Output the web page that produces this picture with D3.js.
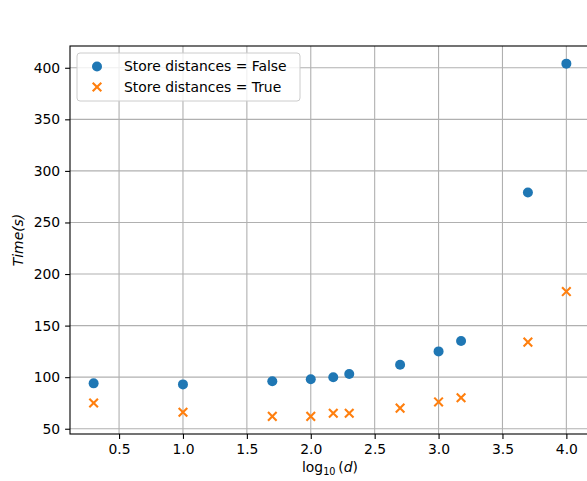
<!DOCTYPE html>
<html>
<head>
<meta charset="utf-8">
<script src="https://cdn.jsdelivr.net/npm/d3@7"></script>
<style>
  body { margin: 0; background: #fff; }
  svg { display: block; font-family: "DejaVu Sans", sans-serif; }
</style>
</head>
<body>
<div class="chart"></div>
<script>
// data
var logD = [0.301, 1.0, 1.699, 2.0, 2.176, 2.301, 2.699, 3.0, 3.176, 3.699, 4.0];
var timeFalse = [94, 93, 96, 98, 100, 103, 112, 125, 135, 279, 404];
var timeTrue = [75, 66, 62, 62, 65, 65, 70, 76, 80, 134, 183];
var xTicks = [0.5, 1.0, 1.5, 2.0, 2.5, 3.0, 3.5, 4.0];
var yTicks = [50, 100, 150, 200, 250, 300, 350, 400];
var seriesNames = ["Store distances = False", "Store distances = True"];

var svgWidth = 587;
var svgHeight = 481;

var margin = { top: 46, right: -3, bottom: 47, left: 70 };
var width = svgWidth - margin.left - margin.right;   // axes box runs past the right edge
var height = svgHeight - margin.top - margin.bottom;

var svg = d3.select(".chart")
    .append("svg")
    .attr("width", svgWidth)
    .attr("height", svgHeight);

var chartGroup = svg.append("g")
    .attr("transform", `translate(${margin.left}, ${margin.top})`);

// matplotlib style 5% padding
var xMin = d3.min(logD), xMax = d3.max(logD);
var xPad = (xMax - xMin) * 0.05;
var xLinearScale = d3.scaleLinear()
    .domain([xMin - xPad, xMax + xPad])
    .range([0, width]);

var yMin = d3.min(timeTrue), yMax = d3.max(timeFalse);
var yPad = (yMax - yMin) * 0.05;
var yLinearScale = d3.scaleLinear()
    .domain([yMin - yPad, yMax + yPad])
    .range([height, 0]);

// grid
chartGroup.append("g")
    .selectAll("line")
    .data(xTicks)
    .enter()
    .append("line")
    .attr("x1", d => xLinearScale(d))
    .attr("x2", d => xLinearScale(d))
    .attr("y1", 0)
    .attr("y2", height)
    .attr("stroke", "#b0b0b0")
    .attr("stroke-width", 1.1);

chartGroup.append("g")
    .selectAll("line")
    .data(yTicks)
    .enter()
    .append("line")
    .attr("x1", 0)
    .attr("x2", width)
    .attr("y1", d => yLinearScale(d))
    .attr("y2", d => yLinearScale(d))
    .attr("stroke", "#b0b0b0")
    .attr("stroke-width", 1.1);

// axes
var bottomAxis = d3.axisBottom(xLinearScale)
    .tickValues(xTicks)
    .tickFormat(d3.format(".1f"))
    .tickSize(4.9)
    .tickPadding(4.9);
var leftAxis = d3.axisLeft(yLinearScale)
    .tickValues(yTicks)
    .tickFormat(d3.format("d"))
    .tickSize(4.9)
    .tickPadding(4.9);

var xAxis = chartGroup.append("g")
    .attr("transform", `translate(0, ${height})`)
    .call(bottomAxis);
var yAxis = chartGroup.append("g")
    .call(leftAxis);

[xAxis, yAxis].forEach(function (ax) {
    ax.select(".domain").remove();
    ax.selectAll("line").attr("stroke", "#000").attr("stroke-width", 1.1);
    ax.selectAll("text")
        .attr("fill", "#000")
        .style("font-size", "13.9px")
        .style("font-family", "DejaVu Sans");
});

// spines
chartGroup.append("rect")
    .attr("x", 0)
    .attr("y", 0)
    .attr("width", width)
    .attr("height", height)
    .attr("fill", "none")
    .attr("stroke", "#000")
    .attr("stroke-width", 1.1);

// points
var circlesGroup = chartGroup.append("g")
    .selectAll("circle")
    .data(logD)
    .enter()
    .append("circle")
    .attr("cx", d => xLinearScale(d))
    .attr("cy", (d, i) => yLinearScale(timeFalse[i]))
    .attr("r", 5)
    .attr("fill", "#1f77b4");

var xSize = 4.3;
function crossPath(cx, cy) {
    return `M${cx - xSize},${cy - xSize}L${cx + xSize},${cy + xSize}M${cx - xSize},${cy + xSize}L${cx + xSize},${cy - xSize}`;
}

var crossGroup = chartGroup.append("g")
    .selectAll("path")
    .data(logD)
    .enter()
    .append("path")
    .attr("d", (d, i) => crossPath(xLinearScale(d), yLinearScale(timeTrue[i])))
    .attr("stroke", "#ff7f0e")
    .attr("stroke-width", 2.1)
    .attr("fill", "none");

// legend
var legend = chartGroup.append("g")
    .attr("transform", "translate(7, 7)");
legend.append("rect")
    .attr("x", 0)
    .attr("y", 0)
    .attr("width", 223)
    .attr("height", 48)
    .attr("rx", 3)
    .attr("fill", "#fff")
    .attr("fill-opacity", 0.8)
    .attr("stroke", "#cccccc")
    .attr("stroke-width", 1);

legend.append("circle")
    .attr("cx", 20)
    .attr("cy", 13.5)
    .attr("r", 5)
    .attr("fill", "#1f77b4");
legend.append("path")
    .attr("d", crossPath(20, 34))
    .attr("stroke", "#ff7f0e")
    .attr("stroke-width", 2.1)
    .attr("fill", "none");

legend.selectAll("text.leg")
    .data(seriesNames)
    .enter()
    .append("text")
    .attr("class", "leg")
    .attr("x", 47)
    .attr("y", (d, i) => 13.5 + i * 20.5)
    .attr("dy", "0.35em")
    .style("font-size", "13.9px")
    .text(d => d);

// axis labels
var xLabel = svg.append("text")
    .attr("x", margin.left + xLinearScale(2.15))
    .attr("y", 472)
    .attr("text-anchor", "middle")
    .style("font-size", "13.9px");
xLabel.append("tspan").text("log");
xLabel.append("tspan").attr("dy", 3).style("font-size", "9.7px").text("10");
xLabel.append("tspan").attr("dy", -3).text("\u2009(");
xLabel.append("tspan").style("font-style", "italic").text("d");
xLabel.append("tspan").text(")");

svg.append("text")
    .attr("transform", `translate(23, ${margin.top + height / 2}) rotate(-90)`)
    .attr("text-anchor", "middle")
    .style("font-size", "13.9px")
    .style("font-style", "italic")
    .text("Time(s)");
</script>
</body>
</html>
